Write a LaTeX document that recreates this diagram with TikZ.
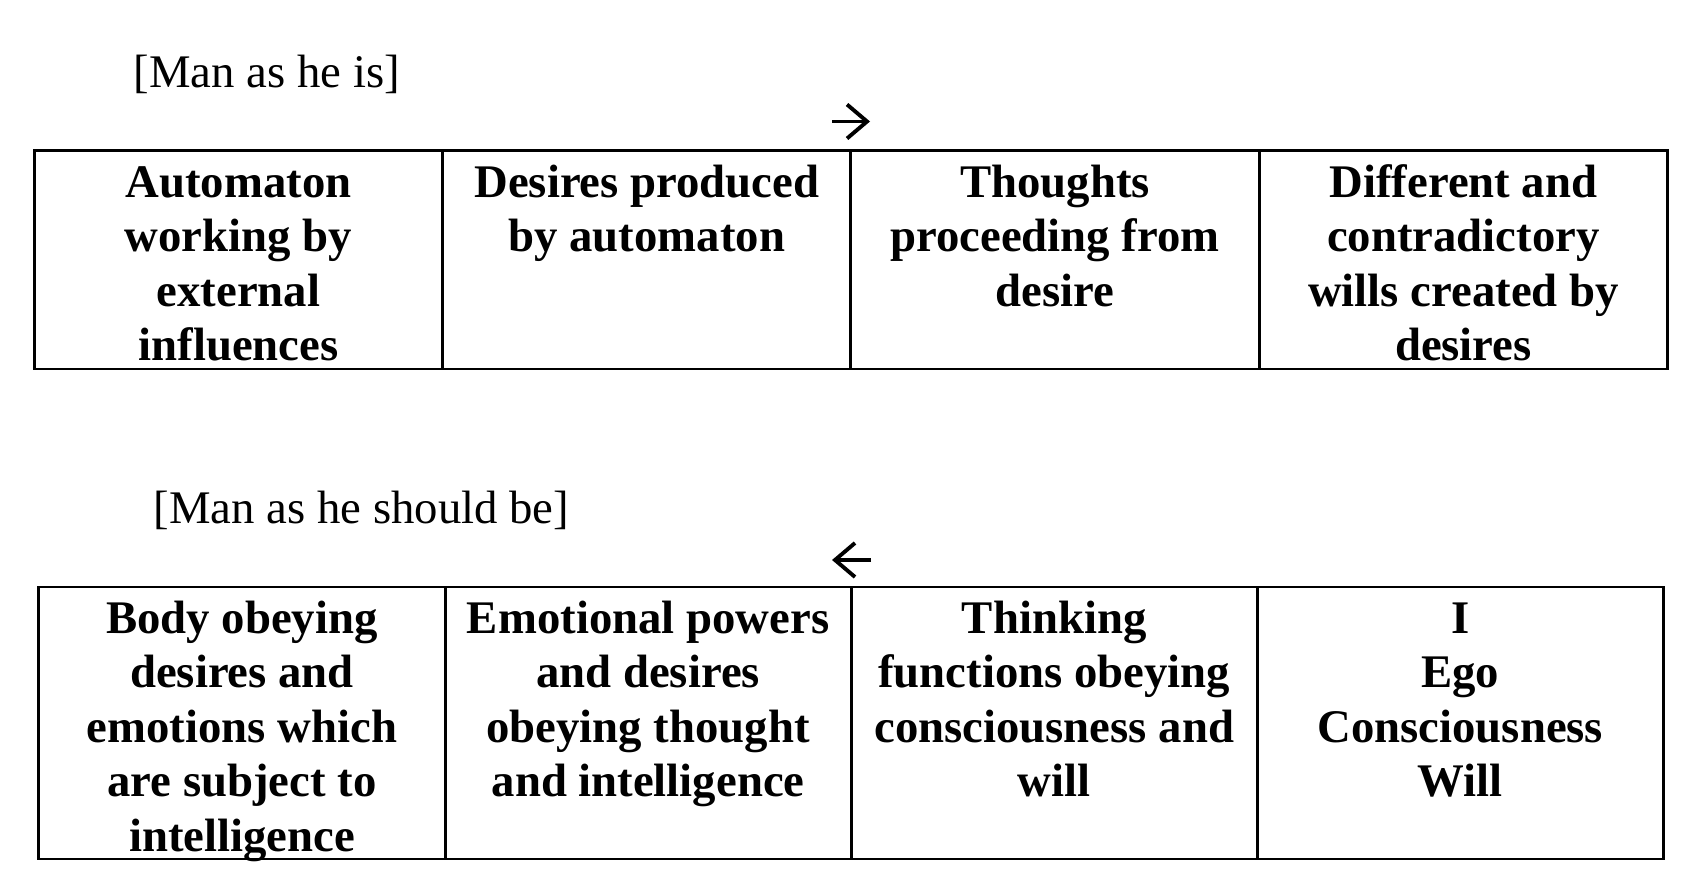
\documentclass[tikz,border=0pt]{standalone}
\usepackage{fontspec}
\setmainfont{Liberation Serif}
\usetikzlibrary{positioning, arrows.meta}

\begin{document}
\begin{tikzpicture}[
    cell/.style={draw, line width=0.85pt, inner sep=0cm},
    celltext/.style={anchor=north, align=center, inner sep=0cm, yshift=-0.09cm,
      font=\bfseries\fontsize{13.3}{15.5}\selectfont},
    title/.style={anchor=base west, inner sep=0cm, font=\fontsize{13.3}{15.5}\selectfont},
    dirarrow/.style={line width=1.1pt, -{Straight Barb[length=0.2cm, width=0.34cm]}}]
    \useasboundingbox (0,0) rectangle (17.07,-8.96);

    % man as he is
    \node[title] (istitle) at (1.33,-0.88) {[Man as he is]};
    \coordinate (isfrom) at (8.32,-1.215);
    \coordinate (isto) at (8.70,-1.215);
    \draw[dirarrow] (isfrom) -- (isto);

    \node[cell, minimum width=4.083cm, minimum height=2.18cm] (is1) at (2.385,-2.60) {};
    \node[cell, minimum width=4.083cm, minimum height=2.18cm, node distance=4.083cm, right of=is1] (is2) {};
    \node[cell, minimum width=4.083cm, minimum height=2.18cm, node distance=4.083cm, right of=is2] (is3) {};
    \node[cell, minimum width=4.083cm, minimum height=2.18cm, node distance=4.083cm, right of=is3] (is4) {};

    \node[celltext, at=(is1.north)] (is1txt) {\strut Automaton\\working by\\external\\influences};
    \node[celltext, at=(is2.north)] (is2txt) {\strut Desires produced\\by automaton};
    \node[celltext, at=(is3.north)] (is3txt) {\strut Thoughts\\proceeding from\\desire};
    \node[celltext, at=(is4.north)] (is4txt) {\strut Different and\\contradictory\\wills created by\\desires};

    % man as he should be
    \node[title] (shouldtitle) at (1.53,-5.24) {[Man as he should be]};
    \coordinate (shouldfrom) at (8.71,-5.60);
    \coordinate (shouldto) at (8.32,-5.60);
    \draw[dirarrow] (shouldfrom) -- (shouldto);

    \node[cell, minimum width=4.061cm, minimum height=2.72cm] (sb1) at (2.42,-7.23) {};
    \node[cell, minimum width=4.061cm, minimum height=2.72cm, node distance=4.061cm, right of=sb1] (sb2) {};
    \node[cell, minimum width=4.061cm, minimum height=2.72cm, node distance=4.061cm, right of=sb2] (sb3) {};
    \node[cell, minimum width=4.061cm, minimum height=2.72cm, node distance=4.061cm, right of=sb3] (sb4) {};

    \node[celltext, at=(sb1.north)] (sb1txt) {\strut Body obeying\\desires and\\emotions which\\are subject to\\intelligence};
    \node[celltext, at=(sb2.north)] (sb2txt) {\strut Emotional powers\\and desires\\obeying thought\\and intelligence};
    \node[celltext, at=(sb3.north)] (sb3txt) {\strut Thinking\\functions obeying\\consciousness and\\will};
    \node[celltext, at=(sb4.north)] (sb4txt) {\strut I\\Ego\\Consciousness\\Will};
  \end{tikzpicture}
\end{document}
